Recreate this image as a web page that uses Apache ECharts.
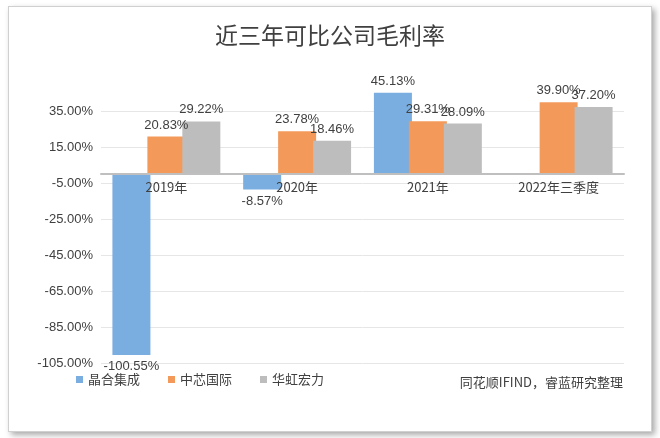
<!DOCTYPE html>
<html><head><meta charset="utf-8">
<script src="https://cdn.jsdelivr.net/npm/echarts@6/dist/echarts.min.js"></script>
<style>html,body{margin:0;padding:0;background:#fff}
#c{position:absolute;left:8px;top:6px;width:642px;height:424px;border:1px solid #d0d0d0;box-shadow:3px 3px 6px #aaa;background:#fff}</style>
</head><body><div id="c"></div>
<script>
const categories=['2019年','2020年','2021年','2022年三季度'];
const jinghe=[-100.55,-8.57,45.13,null];
const zhongxin=[20.83,23.78,29.31,39.90];
const huahong=[29.22,18.46,28.09,37.20];
const yTicks=[-105,-85,-65,-45,-25,-5,15,35];
const chart=echarts.init(document.getElementById('c'));
const lbl={show:true,position:'top',color:'#404040',fontSize:13,fontFamily:'Liberation Sans',formatter:p=>p.value.toFixed(2)+'%'};
const negLbl={show:true,position:'bottom',color:'#404040',fontSize:13,fontFamily:'Liberation Sans',formatter:p=>p.value.toFixed(2)+'%'};
chart.setOption({
 animation:false,
 title:{text:'近三年可比公司毛利率',left:'center',top:12,textStyle:{fontFamily:'Noto Sans CJK SC',fontWeight:'normal',fontSize:23,color:'#404040'}},
 legend:{left:62,bottom:40,itemWidth:7,itemHeight:7,itemGap:28,icon:'rect',textStyle:{fontFamily:'Noto Sans CJK SC',fontSize:13,color:'#404040'}},
 graphic:[{type:'text',right:28,bottom:42,style:{text:'同花顺IFIND，睿蓝研究整理',fontFamily:'Noto Sans CJK SC',fontSize:13,fill:'#404040'}}],
 grid:{left:92,right:27,top:68,bottom:68},
 xAxis:{type:'category',z:10,data:categories,axisLine:{onZero:true,lineStyle:{color:'#bfbfbf',width:2}},axisTick:{show:false},
  axisLabel:{color:'#404040',fontSize:13,fontFamily:'Noto Sans CJK SC',margin:-182}},
 yAxis:{type:'value',min:-105,max:55,axisLine:{show:false},axisTick:{show:false,customValues:yTicks},
  axisLabel:{customValues:yTicks,color:'#404040',fontSize:13,fontFamily:'Liberation Sans',formatter:v=>v.toFixed(2)+'%'},
  splitLine:{lineStyle:{color:'#e6e6e6'}}},
 series:[
  {name:'晶合集成',type:'bar',data:jinghe.map(v=>v==null?null:{value:v,label:v<0?negLbl:lbl}),barWidth:38,barGap:'-8%',itemStyle:{color:'#7aaee0'},label:lbl},
  {name:'中芯国际',type:'bar',data:zhongxin,barWidth:38,barGap:'-8%',itemStyle:{color:'#f39a5b'},label:lbl},
  {name:'华虹宏力',type:'bar',data:huahong,barWidth:38,barGap:'-8%',itemStyle:{color:'#bdbdbd'},label:lbl}
 ]
});
</script></body></html>
